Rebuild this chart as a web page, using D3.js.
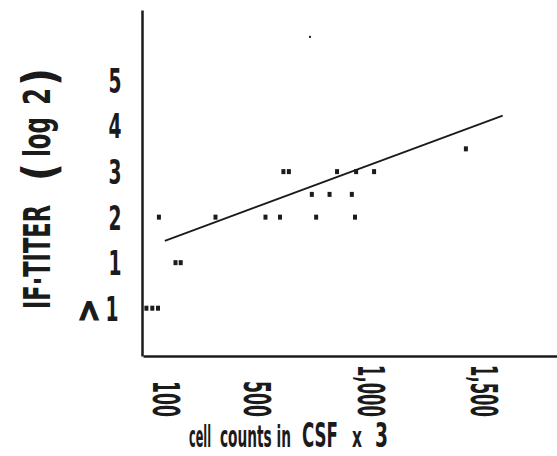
<!DOCTYPE html>
<html>
<head>
<meta charset="utf-8">
<script src="https://cdn.jsdelivr.net/npm/d3@7"></script>
<style>
  body { margin: 0; background: #fff; }
  svg { display: block; }
</style>
</head>
<body>
<svg id="chart" width="557" height="456"></svg>
<script>
// values
const titerLevels = [0, 1, 2, 3, 4, 5];
const titerLabels = ["<1", "1", "2", "3", "4", "5"];
const countTicks = [100, 500, 1000, 1500];
const countTickLabels = ["100", "500", "1,000", "1,500"];

// one entry per patient: cell count and IF titer (log 2), "<1" is 0
const cellCounts = [15, 41, 66, 143, 166, 70, 319, 539, 603, 762, 933, 743, 821, 919, 618, 642, 854, 938, 1017, 1421];
const titers     = [0,  0,  0,  1,   1,   2,  2,   2,   2,   2,   2,   2.5, 2.5, 2.5, 3,   3,   3,   3,   3,    3.5];

// regression line end points
const fitCounts = [96, 1583];
const fitTiters = [1.48, 4.23];

// the lone small dot near the top
const strayCounts = [735];
const strayTiters = [5.96];

const svg = d3.select("#chart");
const ink = "#1b1b1b";
const font = "'Liberation Sans Narrow','DejaVu Sans Condensed','Liberation Sans',sans-serif";

const x = d3.scaleLinear().domain([0, 1822]).range([143, 557]);
const y = d3.scaleLinear().domain([-1.05, 6.55]).range([356, 10]);

//Y axis
const yAxis = svg.append("g")
    .attr("transform", "translate(142,0)")
    .call(d3.axisLeft(y)
        .tickValues(titerLevels)
        .tickSize(0)
        .tickPadding(27)
        .tickFormat((d, i) => titerLabels[i]));
yAxis.select(".domain").attr("stroke", ink).attr("stroke-width", 2.5);
yAxis.selectAll(".tick text")
    .attr("font-family", font)
    .attr("font-weight", "bold")
    .attr("font-size", 33)
    .attr("fill", ink)
    .attr("text-anchor", "middle")
    .attr("dy", "0.36em")
    .attr("textLength", 13)
    .attr("lengthAdjust", "spacingAndGlyphs");

// "<1": the "<" is printed turned on its side
yAxis.selectAll(".tick").filter(d => d === 0).each(function () {
    const t = d3.select(this);
    t.select("text").text("1").attr("x", -30);
    t.append("text")
        .attr("transform", "translate(-52,2) rotate(90)")
        .attr("font-family", font)
        .attr("font-weight", "bold")
        .attr("font-size", 32)
        .attr("fill", ink)
        .attr("stroke", ink)
        .attr("stroke-width", 1.4)
        .attr("text-anchor", "middle")
        .attr("dominant-baseline", "central")
        .text("<");
});

//X axis
const xAxis = svg.append("g")
    .attr("transform", "translate(0,356)")
    .call(d3.axisBottom(x)
        .tickValues(countTicks)
        .tickSize(0)
        .tickFormat((d, i) => countTickLabels[i]));
xAxis.select(".domain").attr("stroke", ink).attr("stroke-width", 2.5);
xAxis.selectAll(".tick text")
    .attr("font-family", font)
    .attr("font-weight", "bold")
    .attr("font-size", 38)
    .attr("fill", ink)
    .attr("transform", "rotate(90)")
    .attr("x", 61)
    .attr("y", 0)
    .attr("dy", 0)
    .attr("text-anchor", "end")
    .attr("dominant-baseline", "central")
    .attr("textLength", d => String(d).length * 12 + (d >= 1000 ? 4 : 0))
    .attr("lengthAdjust", "spacingAndGlyphs");

// axis titles, set in pieces like the typed original
const piece = (str, px, py, size, len, rot) => {
    svg.append("text")
        .attr("transform", `translate(${px},${py}) rotate(${rot})`)
        .attr("font-family", font)
        .attr("font-weight", "bold")
        .attr("font-size", size)
        .attr("fill", ink)
        .attr("textLength", len)
        .attr("lengthAdjust", "spacingAndGlyphs")
        .text(str);
};
piece("cell", 189, 447, 30, 22, 0);
piece("counts in", 220, 447, 30, 71, 0);
piece("CSF", 302, 447, 34, 36, 0);
piece("x", 352, 447, 29, 10, 0);
piece("3", 375, 447, 34, 13, 0);

piece("IF·TITER", 50, 309, 38, 104, -90);
piece("(", 55, 181, 46, 18, -90);
piece("log", 50, 157, 38, 40, -90);
piece("2", 50, 105, 38, 17, -90);
piece(")", 55, 86, 46, 18, -90);

//Regression line
const fit = fitCounts.map((c, i) => [c, fitTiters[i]]);
svg.append("path")
    .datum(fit)
    .attr("fill", "none")
    .attr("stroke", ink)
    .attr("stroke-width", 1.8)
    .attr("d", d3.line().x(d => x(d[0])).y(d => y(d[1])));

//Points
const points = cellCounts.map((c, i) => ({ count: c, titer: titers[i] }));
svg.selectAll("rect.pt")
    .data(points)
    .enter().append("rect")
    .attr("class", "pt")
    .attr("x", d => x(d.count) - 2)
    .attr("y", d => y(d.titer) - 2.5)
    .attr("width", 4)
    .attr("height", 5)
    .attr("fill", ink);

svg.selectAll("rect.stray")
    .data(strayCounts.map((c, i) => ({ count: c, titer: strayTiters[i] })))
    .enter().append("rect")
    .attr("class", "stray")
    .attr("x", d => x(d.count) - 1)
    .attr("y", d => y(d.titer) - 1)
    .attr("width", 2)
    .attr("height", 2)
    .attr("fill", ink);
</script>
</body>
</html>
